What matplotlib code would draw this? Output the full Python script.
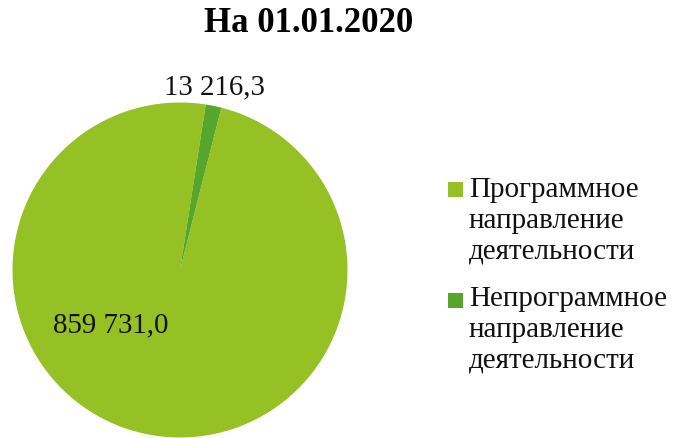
import matplotlib
matplotlib.use("Agg")
import matplotlib.pyplot as plt
from matplotlib.patches import Rectangle

title = "На 01.01.2020"
categories = ["Программное\nнаправление\nдеятельности", "Непрограммное\nнаправление\nдеятельности"]
values = [859731.0, 13216.3]
value_labels = ["859 731,0", "13 216,3"]
colors = ["#95C124", "#57A52A"]

plt.rcParams['font.family'] = ['Liberation Serif', 'DejaVu Serif']

W, H = 673, 438
fig = plt.figure(figsize=(W / 100, H / 100), dpi=100)
fig.patch.set_facecolor("white")

cx, cy, r = 180, 270, 167.5
ax = fig.add_axes([(cx - r) / W, 1 - (cy + r) / H, 2 * r / W, 2 * r / H])
wedges, _ = ax.pie(values, colors=colors, startangle=75.7, counterclock=False,
                   radius=1.0, wedgeprops=dict(linewidth=0))
ax.set_xlim(-1, 1)
ax.set_ylim(-1, 1)
ax.set_aspect("auto")
ax.axis("off")

# data labels
label_pos = [(111, 325), (214, 87)]
for (px, py), lab in zip(label_pos, value_labels):
    fig.text(px / W, 1 - py / H, lab, ha="center", va="center", fontsize=20.8, color="#111111")

fig.text(309 / W, 1 - 23 / H, title, ha="center", va="center", fontsize=25, fontweight="bold")

# legend
leg_y = [221, 330]
mark_y = [189.5, 300.5]
for cat, col, ty, my in zip(categories, colors, leg_y, mark_y):
    fig.patches.append(Rectangle((448 / W, 1 - (my + 7.5) / H), 15 / W, 15 / H,
                                 transform=fig.transFigure, facecolor=col, edgecolor="none"))
    fig.text(469 / W, 1 - ty / H, cat, ha="left", va="center", fontsize=21,
             linespacing=1.24, color="#111111")

fig.savefig("out.png", dpi=100)
